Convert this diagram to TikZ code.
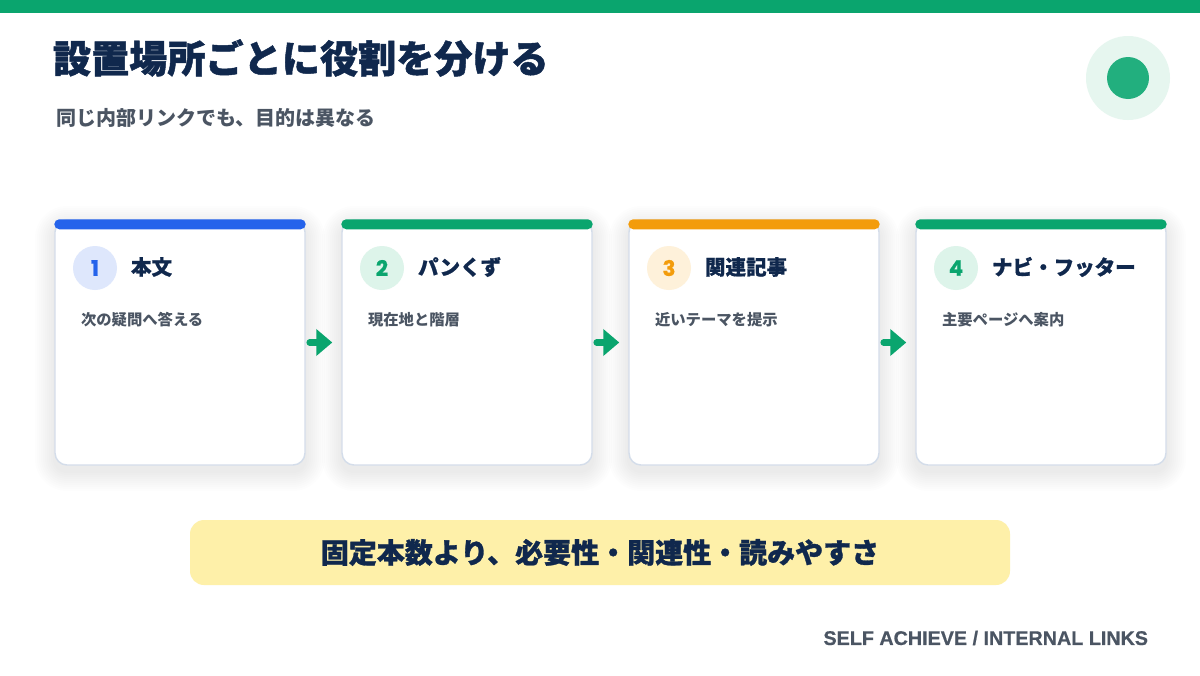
\documentclass[tikz,border=0pt]{standalone}
\usepackage{fontspec}
\setmainfont{Noto Sans CJK JP}
\newfontfamily\numfont{Poppins}
\newfontfamily\footfont{Liberation Sans}
\usetikzlibrary{arrows.meta}
\definecolor{topgreen}{HTML}{0AA56E}
\definecolor{navy}{HTML}{10284D}
\definecolor{subgray}{HTML}{4B5563}
\definecolor{cblue}{HTML}{2563EB}
\definecolor{cgreen}{HTML}{0AA56E}
\definecolor{corange}{HTML}{F39C0B}
\definecolor{lblue}{HTML}{DEE7FC}
\definecolor{lgreen}{HTML}{DDF4EA}
\definecolor{lorange}{HTML}{FEF1DA}
\definecolor{cardborder}{HTML}{D4DDEA}
\definecolor{yellowbox}{HTML}{FEF0A9}
\definecolor{ringlight}{HTML}{E6F6EF}
\definecolor{dotgreen}{HTML}{22AF7E}
\definecolor{shadowc}{HTML}{1E3A6A}
\begin{document}
\begin{tikzpicture}[x=0.75pt,y=-0.75pt,
  txt/.style={inner sep=0pt, outer sep=0pt},
  card/.style={draw=cardborder, line width=1.1pt, fill=white, rounded corners=9pt,
    minimum width=187.5pt, minimum height=183.75pt, inner sep=0pt},
  numcirc/.style={circle, minimum size=33pt, inner sep=0pt, font=\numfont\bfseries\fontsize{16}{18}\selectfont\addfontfeatures{FakeBold=0.8}},
  cardtitle/.style={txt, anchor=west, text=navy, font=\bfseries\fontsize{15.4}{18}\selectfont\addfontfeatures{FakeBold=0.8}},
  carddesc/.style={txt, anchor=west, text=subgray, font=\bfseries\fontsize{11.5}{14}\selectfont},
  flow/.style={draw=cgreen, line width=5pt, line cap=round, shorten <=3pt, shorten >=6.75pt,
    -{Triangle[length=12pt,width=19.5pt]}}
]
\useasboundingbox[fill=white] (0,0) rectangle (1200,675);
\fill[topgreen] (0,0) rectangle (1200,13);
\node[txt, anchor=west, text=navy, font=\bfseries\fontsize{28.6}{32}\selectfont\addfontfeatures{FakeBold=1.2}] (title) at (53,58) {設置場所ごとに役割を分ける};
\node[txt, anchor=west, text=subgray, font=\bfseries\fontsize{15}{18}\selectfont] (subtitle) at (56,118) {同じ内部リンクでも、目的は異なる};
\node[circle, fill=ringlight, minimum size=63pt, inner sep=0pt] (ring) at (1128,78) {};
\node[circle, fill=dotgreen, minimum size=31.5pt, inner sep=0pt] (dot) at (ring) {};
\foreach \i/\barc/\lightc/\nm/\ttl/\desc in {
  1/cblue/lblue/1/本文/次の疑問へ答える,
  2/cgreen/lgreen/2/パンくず/現在地と階層,
  3/corange/lorange/3/関連記事/近いテーマを提示,
  4/cgreen/lgreen/4/ナビ・フッター/主要ページへ案内}{
  \pgfmathsetmacro\xo{55+287*(\i-1)}
  \foreach \k in {2,4,...,20}{
    \fill[shadowc, opacity=0.006, rounded corners=9pt+0.75*\k] (\xo-\k,226-\k) rectangle (\xo+250+\k,471+\k);
  }
  \node[card] (c\i) at (\xo+125,342.5) {};
  \fill[\barc, rounded corners=3.75pt] (c\i.north west) rectangle ([yshift=-7.5pt]c\i.north east);
  \node[numcirc, fill=\lightc, text=\barc] (n\i) at (\xo+40,268) {\nm};
  \node[cardtitle] (t\i) at (\xo+76,267) {\ttl};
  \node[carddesc] (d\i) at (\xo+26,320) {\desc};
}
\draw[flow] (c1.east) -- (c2.west);
\draw[flow] (c2.east) -- (c3.west);
\draw[flow] (c3.east) -- (c4.west);
\node[fill=yellowbox, rounded corners=10.5pt, minimum width=615pt, minimum height=48.75pt, inner sep=0pt,
  text=navy, font=\bfseries\fontsize{21}{24}\selectfont\addfontfeatures{FakeBold=1}] (summary) at (600,552.5) {固定本数より、必要性・関連性・読みやすさ};
\node[txt, anchor=east, text=subgray, font=\footfont\bfseries\fontsize{14.8}{16}\selectfont\addfontfeatures{FakeBold=0.6}] (footer) at (1148,638) {SELF ACHIEVE / INTERNAL LINKS};
\end{tikzpicture}
\end{document}
